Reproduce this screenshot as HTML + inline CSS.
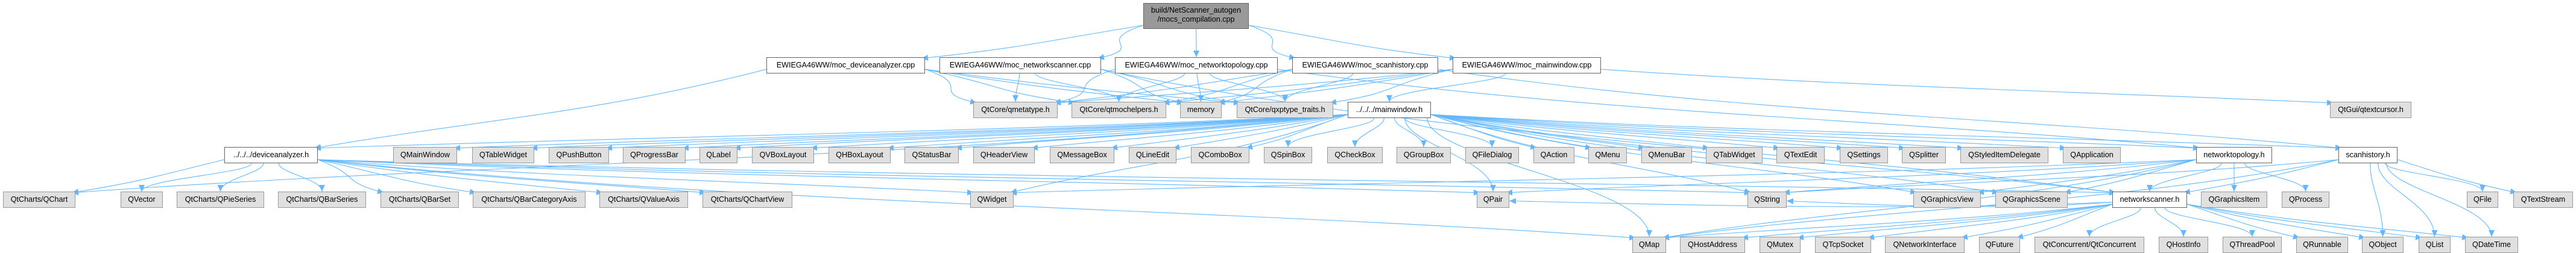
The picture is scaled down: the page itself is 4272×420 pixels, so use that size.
<!DOCTYPE html>
<html><head><meta charset="utf-8"><style>
html,body{margin:0;padding:0;background:#fff;}
#c{position:relative;width:4272px;height:420px;overflow:hidden;font-family:"Liberation Sans",Arial,sans-serif;}
.n{position:absolute;box-sizing:border-box;height:27px;border:1px solid #999;background:#e0e0e0;font-size:12.6px;line-height:25px;text-align:center;white-space:nowrap;color:#000;}
.w{background:#fff;border-color:#666;}
.t{background:#999;border-color:#666;line-height:15px;padding-top:4px;height:43px;}
svg{position:absolute;left:0;top:0;}
</style></head><body><div id="c">
<svg id="s" width="4272" height="420"><defs><marker id="a" markerUnits="userSpaceOnUse" markerWidth="12" markerHeight="10" refX="11" refY="5" orient="auto"><path d="M0,0 L11,5 L0,10 z" fill="#63b8ff"/></marker></defs><g id="g" fill="none" stroke="#63b8ff" stroke-width="1.1"></g></svg>
<div id="nodes"></div>
</div>
<script>
var R={a:[5,48],b:[95,121],c:[169,196],d:[244,271],e:[318,345],f:[393,420]};
var N={
top:["build/NetScanner_autogen<br>/mocs_compilation.cpp",1896,2071,'a','t'],
dcpp:["EWIEGA46WW/moc_deviceanalyzer.cpp",1271,1534,'b','w'],
ncpp:["EWIEGA46WW/moc_networkscanner.cpp",1558,1826,'b','w'],
tcpp:["EWIEGA46WW/moc_networktopology.cpp",1849,2119,'b','w'],
scpp:["EWIEGA46WW/moc_scanhistory.cpp",2143,2385,'b','w'],
mcpp:["EWIEGA46WW/moc_mainwindow.cpp",2409,2655,'b','w'],
qmeta:["QtCore/qmetatype.h",1614,1754,'c'],
qmoc:["QtCore/qtmochelpers.h",1777,1934,'c'],
mem:["memory",1957,2026,'c'],
qxp:["QtCore/qxptype_traits.h",2051,2211,'c'],
mwh:["../../../mainwindow.h",2235,2373,'c','w'],
qtc:["QtGui/qtextcursor.h",3864,3999,'c'],
dah:["../../../deviceanalyzer.h",372,527,'d','w'],
QMainWindow:["QMainWindow",652,758,'d'],QTableWidget:["QTableWidget",783,886,'d'],QPushButton:["QPushButton",910,1010,'d'],
QProgressBar:["QProgressBar",1033,1137,'d'],QLabel:["QLabel",1160,1223,'d'],QVBoxLayout:["QVBoxLayout",1247,1350,'d'],
QHBoxLayout:["QHBoxLayout",1374,1477,'d'],QStatusBar:["QStatusBar",1500,1590,'d'],QHeaderView:["QHeaderView",1614,1716,'d'],
QMessageBox:["QMessageBox",1741,1848,'d'],QLineEdit:["QLineEdit",1872,1951,'d'],QComboBox:["QComboBox",1975,2072,'d'],
QSpinBox:["QSpinBox",2096,2176,'d'],QCheckBox:["QCheckBox",2201,2293,'d'],QGroupBox:["QGroupBox",2316,2406,'d'],
QFileDialog:["QFileDialog",2430,2519,'d'],QAction:["QAction",2543,2611,'d'],QMenu:["QMenu",2634,2698,'d'],
QMenuBar:["QMenuBar",2722,2806,'d'],QTabWidget:["QTabWidget",2829,2923,'d'],QTextEdit:["QTextEdit",2946,3026,'d'],
QSettings:["QSettings",3051,3131,'d'],QSplitter:["QSplitter",3154,3227,'d'],QStyledItemDelegate:["QStyledItemDelegate",3251,3397,'d'],
QApplication:["QApplication",3421,3517,'d'],
nth:["networktopology.h",3642,3768,'d','w'],shh:["scanhistory.h",3878,3976,'d','w'],
QChart:["QtCharts/QChart",5,125,'e'],QVector:["QVector",200,270,'e'],QPieSeries:["QtCharts/QPieSeries",293,438,'e'],
QBarSeries:["QtCharts/QBarSeries",461,607,'e'],QBarSet:["QtCharts/QBarSet",631,761,'e'],QBarCat:["QtCharts/QBarCategoryAxis",784,971,'e'],
QValueAxis:["QtCharts/QValueAxis",994,1141,'e'],QChartView:["QtCharts/QChartView",1165,1314,'e'],
QWidget:["QWidget",1609,1681,'e'],QPair:["QPair",2449,2503,'e'],QString:["QString",2898,2963,'e'],
QGraphicsView:["QGraphicsView",3173,3285,'e'],QGraphicsScene:["QGraphicsScene",3309,3429,'e'],
nsh:["networkscanner.h",3503,3627,'e','w'],QGraphicsItem:["QGraphicsItem",3650,3760,'e'],QProcess:["QProcess",3784,3863,'e'],
QFile:["QFile",4091,4143,'e'],QTextStream:["QTextStream",4168,4267,'e'],
QMap:["QMap",2707,2763,'f'],QHostAddress:["QHostAddress",2786,2894,'f'],QMutex:["QMutex",2918,2986,'f'],
QTcpSocket:["QTcpSocket",3010,3103,'f'],QNetworkInterface:["QNetworkInterface",3126,3258,'f'],QFuture:["QFuture",3282,3350,'f'],
QtConc:["QtConcurrent/QtConcurrent",3374,3556,'f'],QHostInfo:["QHostInfo",3580,3662,'f'],QThreadPool:["QThreadPool",3686,3784,'f'],
QRunnable:["QRunnable",3808,3894,'f'],QObject:["QObject",3917,3986,'f'],QList:["QList",4011,4064,'f'],QDateTime:["QDateTime",4088,4176,'f']
};
var h='';for(var k in N){var n=N[k],r=R[n[3]];h+='<div class="n '+(n[4]||'')+'" style="left:'+n[1]+'px;top:'+r[0]+'px;width:'+(n[2]-n[1])+'px;">'+n[0]+'</div>';}
document.getElementById('nodes').innerHTML=h;
var E={
top:['dcpp','ncpp','tcpp','scpp','mcpp'],
dcpp:['qmeta','qmoc','mem','qxp','dah'],ncpp:['qmeta','qmoc','mem','qxp','nsh'],tcpp:['qmeta','qmoc','mem','qxp','nth'],
scpp:['qmeta','qmoc','mem','qxp','shh'],mcpp:['qmeta','qmoc','mem','qxp','mwh','qtc'],
mwh:['dah','QMainWindow','QTableWidget','QPushButton','QProgressBar','QLabel','QVBoxLayout','QHBoxLayout','QStatusBar','QHeaderView','QMessageBox','QLineEdit','QComboBox','QSpinBox','QCheckBox','QGroupBox','QFileDialog','QAction','QMenu','QMenuBar','QTabWidget','QTextEdit','QSettings','QSplitter','QStyledItemDelegate','QApplication','nth','shh','nsh','QWidget','QString','QPair','QChart','QMap','QGraphicsView','QGraphicsScene'],
dah:['QChart','QVector','QPieSeries','QBarSeries','QBarSet','QBarCat','QValueAxis','QChartView','QWidget','QString','QPair','QMap','nsh'],
nth:['nsh','QGraphicsItem','QProcess','QGraphicsView','QGraphicsScene','QWidget','QString','QPair','QMap'],
shh:['nsh','QFile','QTextStream','QObject','QList','QDateTime','QString','QMap'],
nsh:['QMap','QHostAddress','QMutex','QTcpSocket','QNetworkInterface','QFuture','QtConc','QHostInfo','QThreadPool','QRunnable','QObject','QList','QDateTime','QString','QPair']
};
var p='';
for(var s in E){var S=N[s],sr=R[S[3]],scx=(S[1]+S[2])/2;
E[s].forEach(function(t){var T=N[t],tr=R[T[3]],tcx=(T[1]+T[2])/2,d;
 if(tr[0]>sr[1]){var sy=sr[1],ty=tr[0],dy=ty-sy,dx=tcx-scx;
  if(Math.abs(dx)>5*dy){
   var left=dx<0,sx=left?S[1]:S[2],sy2=sr[1]-6;
   var tx=left?T[2]-6:T[1]+6,ty2=tr[0]+2;
   d='M'+sx+','+sy2+' C'+(sx+dx*0.3)+','+(sy2+dy*0.6)+' '+(tx-dx*0.3)+','+(ty2-dy*0.4)+' '+tx+','+ty2;
  } else {
  var sx=scx+dx*0.15;sx=Math.max(S[1]+6,Math.min(S[2]-6,sx));
  d='M'+sx+','+sy+' C'+sx+','+(sy+dy*0.35)+' '+tcx+','+(ty-dy*0.45)+' '+tcx+','+ty;}}
 else{var my=(sr[0]+sr[1])/2;var sx2,tx2;if(tcx<scx){sx2=S[1];tx2=T[2];}else{sx2=S[2];tx2=T[1];}
  d='M'+sx2+','+(my+4)+' C'+((sx2*2+tx2)/3)+','+(my+18)+' '+((sx2+tx2*2)/3)+','+(my+10)+' '+tx2+','+(my+2);}
 p+='<path d="'+d+'" marker-end="url(#a)"/>';});}
document.getElementById('g').innerHTML=p;
</script>
</body></html>
